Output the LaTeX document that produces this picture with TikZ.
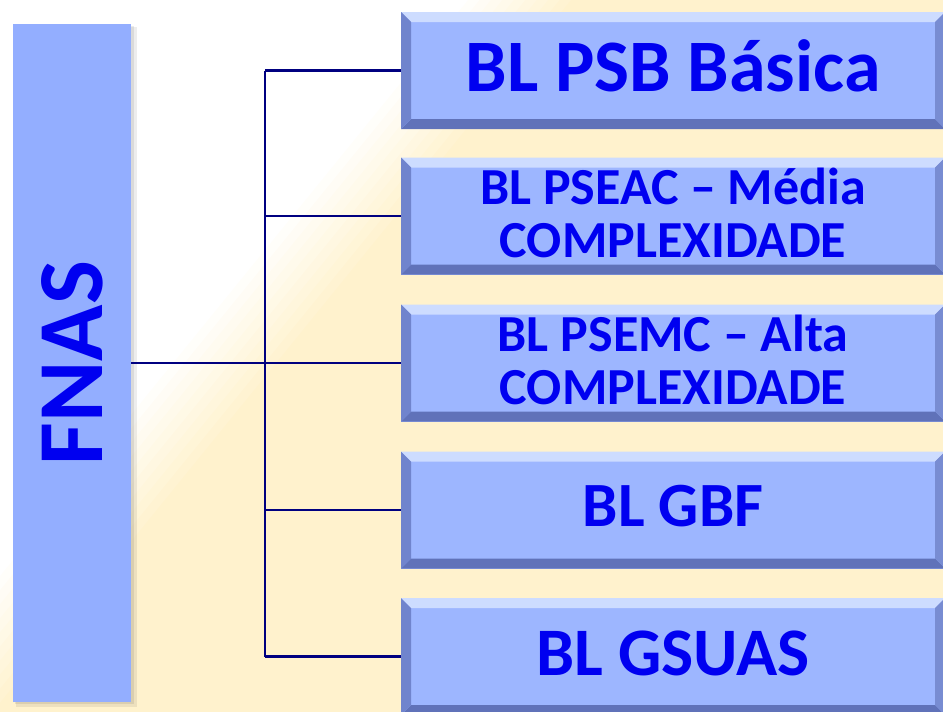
\documentclass[tikz,border=0pt]{standalone}
\usepackage{fontspec}
\setmainfont{Carlito}
\definecolor{cream}{RGB}{255,242,205}
\definecolor{fnasblue}{RGB}{147,174,255}
\definecolor{boxblue}{RGB}{157,182,255}
\definecolor{bevtop}{RGB}{205,220,255}
\definecolor{bevleft}{RGB}{112,132,205}
\definecolor{bevbot}{RGB}{96,114,185}
\definecolor{bevright}{RGB}{120,140,210}
\definecolor{navy}{RGB}{0,0,128}
\definecolor{txtblue}{RGB}{0,0,240}
\tikzset{
  conn/.style={draw=navy, line width=2.6pt},
  fnasbox/.style={rectangle, fill=fnasblue, minimum width=118pt, minimum height=678pt, inner sep=0pt,
    text=txtblue, font=\bfseries\fontsize{93}{95}\selectfont},
  bevelbox/.style={rectangle, fill=boxblue, minimum width=544pt, minimum height=117pt, inner sep=0pt,
    text=txtblue, align=center,
    path picture={
      \fill[bevtop] (path picture bounding box.north west) -- (path picture bounding box.north east)
        -- ([shift={(-10pt,-10pt)}]path picture bounding box.north east) -- ([shift={(10pt,-10pt)}]path picture bounding box.north west) -- cycle;
      \fill[bevbot] (path picture bounding box.south west) -- (path picture bounding box.south east)
        -- ([shift={(-10pt,10pt)}]path picture bounding box.south east) -- ([shift={(10pt,10pt)}]path picture bounding box.south west) -- cycle;
      \fill[bevleft] (path picture bounding box.north west) -- (path picture bounding box.south west)
        -- ([shift={(10pt,10pt)}]path picture bounding box.south west) -- ([shift={(10pt,-10pt)}]path picture bounding box.north west) -- cycle;
      \fill[bevright] (path picture bounding box.north east) -- (path picture bounding box.south east)
        -- ([shift={(-10pt,10pt)}]path picture bounding box.south east) -- ([shift={(-10pt,-10pt)}]path picture bounding box.north east) -- cycle;
    }},
  txtA/.style={font=\bfseries\fontsize{74}{76}\selectfont, text depth=10pt},
  txtB/.style={font=\bfseries\fontsize{63}{65}\selectfont, text depth=8pt},
  txtC/.style={font=\bfseries\fontsize{68}{70}\selectfont, text depth=6pt},
  twotxt/.style={font=\bfseries\fontsize{52}{53}\selectfont, text depth=6pt}
}
\begin{document}
\begin{tikzpicture}[x=1pt,y=-1pt]
\useasboundingbox (0,0) rectangle (943,712);
\begin{scope}
\clip (0,0) rectangle (943,712);
% background
\fill[cream] (0,0) rectangle (943,712);
\foreach \i in {0,...,10}{
  \pgfmathsetmacro\tt{1.12-0.022*\i}
  \pgfmathtruncatemacro\pp{100-10*\i}
  \fill[cream!\pp!white] (0,0) -- (520*\tt,0) -- (0,640*\tt) -- cycle;
}
% shadow of FNAS
\fill[black, opacity=0.07] (16,27) rectangle (137,707);
\fill[black, opacity=0.08] (15,26) rectangle (134,704);
% nodes
\node[fnasbox] (fnas) at (72,363) {\rotatebox{90}{FNAS}};
\node[bevelbox, txtA] (b1) at (673,70.5) {BL PSB Básica};
\node[bevelbox, twotxt] (b2) at (673,216) {BL PSEAC – Média\\COMPLEXIDADE};
\node[bevelbox, twotxt] (b3) at (673,363) {BL PSEMC – Alta\\COMPLEXIDADE};
\node[bevelbox, txtB] (b4) at (673,510) {BL GBF};
\node[bevelbox, txtC] (b5) at (673,656.5) {BL GSUAS};
% connectors
\coordinate (j) at (265,363);
\draw[conn] (fnas.east) -- (b3.west);
\draw[conn] (j |- b1.west) -- (j |- b5.west);
\draw[conn] (j |- b1.west) -- (b1.west);
\draw[conn] (j |- b2.west) -- (b2.west);
\draw[conn] (j |- b4.west) -- (b4.west);
\draw[conn] (j |- b5.west) -- (b5.west);
\end{scope}
\end{tikzpicture}
\end{document}
